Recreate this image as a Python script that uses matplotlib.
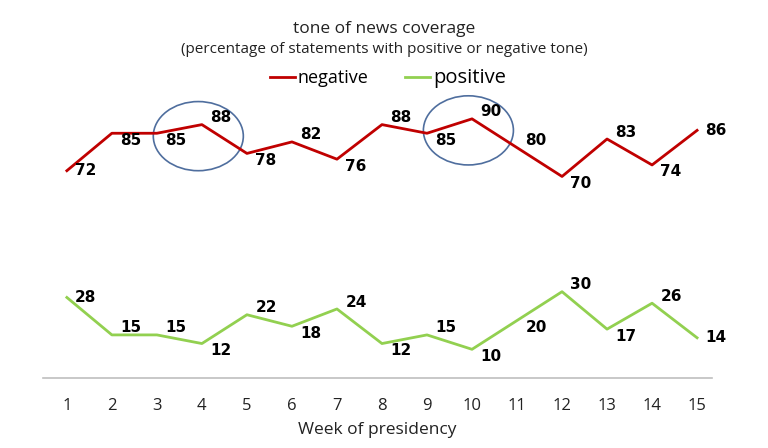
import matplotlib.pyplot as plt
from matplotlib.patches import Ellipse

weeks = list(range(1, 16))
negative = [72, 85, 85, 88, 78, 82, 76, 88, 85, 90, 80, 70, 83, 74, 86]
positive = [28, 15, 15, 12, 22, 18, 24, 12, 15, 10, 20, 30, 17, 26, 14]
circled_weeks = [4, 10]

plt.rcParams['font.family'] = ['Open Sans', 'DejaVu Sans']

fig = plt.figure(figsize=(7.68, 4.48), dpi=100)
ax = fig.add_axes([0.056, 0.156, 0.871, 0.643])

red = '#C00000'
green = '#92D050'
ax.plot(weeks, negative, color=red, lw=2, label='negative')
ax.plot(weeks, positive, color=green, lw=2, label='positive')

lab_font = dict(family=['DejaVu Sans'], weight='bold', fontsize=11)
for series in (negative, positive):
    n = len(series)
    for i, v in enumerate(series):
        # nudge label away from the line segment leaving to the right
        dy = 0
        if 0 < i < n - 1:
            d = series[i + 1] - v
            if d == 0:
                d = v - series[i - 1]
            dy = 5 if d < 0 else -5
        ax.annotate(str(v), (weeks[i], v), xytext=(6, dy), textcoords='offset points',
                    ha='left', va='center', **lab_font)

# highlight circles
for w in circled_weeks:
    ax.add_patch(Ellipse((w - 0.08, negative[w - 1] - 4), 2.0, 24,
                         fill=False, edgecolor='#4F6E9E', lw=1.2))

ax.set_xlim(0.47, 15.33)
ax.set_ylim(0, 100)
ax.set_xticks(weeks)
ax.set_yticks([])
for s in ['top', 'right', 'left']:
    ax.spines[s].set_visible(False)
ax.spines['bottom'].set_color('#BFBFBF')
ax.spines['bottom'].set_linewidth(1.2)
ax.tick_params(axis='x', length=0, pad=14, labelsize=12, colors='#222222')
ax.set_xlabel('Week of presidency', fontsize=12.5, labelpad=6, color='#222222')

fig.text(0.5, 0.935, 'tone of news coverage', ha='center', va='center', fontsize=12.5, color='#222222')
fig.text(0.5, 0.89, '(percentage of statements with positive or negative tone)',
         ha='center', va='center', fontsize=11, color='#222222')

leg = fig.legend(loc='center', bbox_to_anchor=(0.505, 0.826), ncol=2, frameon=False,
                 handlelength=1.4, handletextpad=0.15, columnspacing=2.0, fontsize=13)
leg.get_texts()[1].set_fontsize(14.5)

fig.savefig('out.png', dpi=100)
